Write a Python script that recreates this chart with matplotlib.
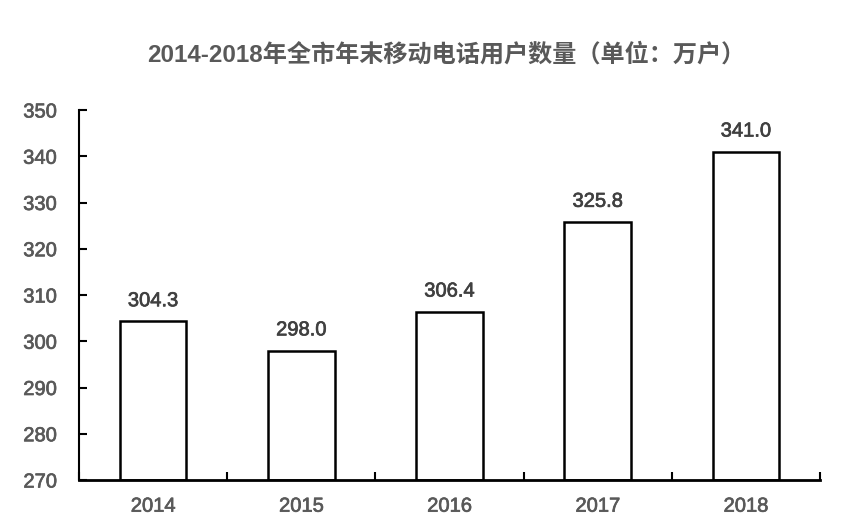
import matplotlib
matplotlib.use("Agg")
import matplotlib.pyplot as plt
import matplotlib.patheffects as pe
import numpy as np

years = ["2014", "2015", "2016", "2017", "2018"]
users = [304.3, 298.0, 306.4, 325.8, 341.0]
yticks = [270, 280, 290, 300, 310, 320, 330, 340, 350]

plt.rcParams['font.family'] = ['Liberation Sans', 'Noto Sans CJK SC', 'DejaVu Sans']

fig = plt.figure(figsize=(8.46, 5.31), dpi=100)
ax = fig.add_axes([79/846, 1-480/531, (820-79)/846, (480-110)/531])

x = np.arange(len(years))
ax.bar(x, [u - 270 for u in users], bottom=270, width=0.45, color='white',
       edgecolor='black', linewidth=1.8)
for xi, u in zip(x, users):
    ax.text(xi, u + 2.4, f"{u:.1f}", ha='center', va='bottom', fontsize=14.5,
            color='#404040',
            path_effects=[pe.withStroke(linewidth=0.5, foreground='#404040')])

ax.set_xlim(-0.5, len(years) - 0.5)
ax.set_ylim(270, 350)
ax.set_yticks(yticks)
ax.set_yticklabels([str(t) for t in yticks], fontsize=14.5, color='#595959')
ax.set_xticks(x)
ax.set_xticklabels(years, fontsize=14.5, color='#595959')
ax.set_xticks(np.arange(-0.5, len(years), 1.0), minor=True)
ax.tick_params(axis='x', which='major', length=0, pad=12)
ax.tick_params(axis='x', which='minor', direction='in', length=6, width=1.5)
ax.tick_params(axis='y', direction='in', length=6, width=1.5, pad=16)
for lab in ax.get_xticklabels() + ax.get_yticklabels():
    lab.set_path_effects([pe.withStroke(linewidth=0.5, foreground='#595959')])
ax.spines['top'].set_visible(False)
ax.spines['right'].set_visible(False)
ax.spines['left'].set_linewidth(1.5)
ax.spines['bottom'].set_linewidth(2)

fig.text(446/846, 1-55/531, "2014-2018年全市年末移动电话用户数量（单位：万户）",
         ha='center', va='center', fontsize=17.4, fontweight='bold', color='#595959',
         family=['Liberation Sans', 'Noto Sans CJK SC', 'DejaVu Sans'])

fig.savefig("out.png", dpi=100)
